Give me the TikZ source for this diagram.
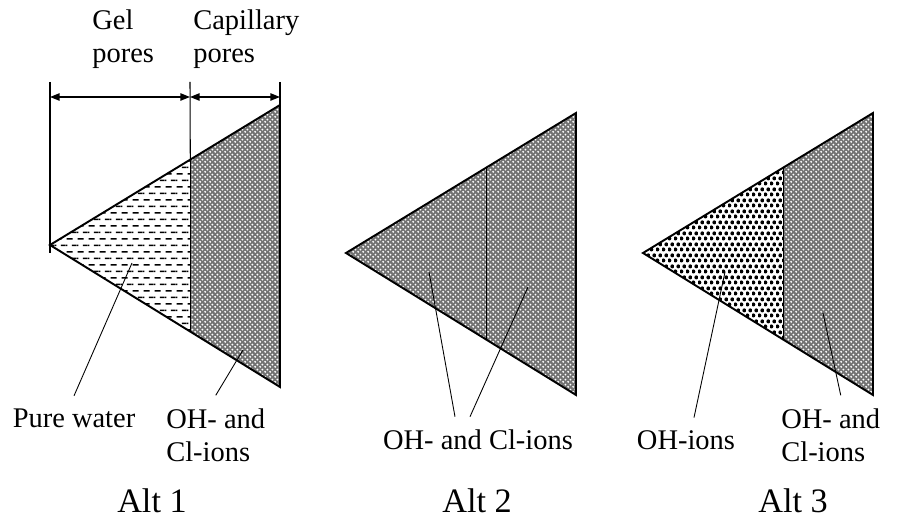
\documentclass[tikz,border=0pt]{standalone}
\usepackage{fontspec}
\setmainfont{Liberation Serif}
\usetikzlibrary{arrows.meta,calc,patterns,patterns.meta}
\tikzdeclarepattern{name=gel water,type=uncolored,bottom left={(0pt,0pt)},top right={(6.4pt,7.6pt)},tile size={(6.4pt,7.6pt)},
  code={\draw[line width=.85pt] (0.4pt,1.9pt) -- (4pt,1.9pt) (3.6pt,5.7pt) -- (6.4pt,5.7pt) (0pt,5.7pt) -- (0.8pt,5.7pt);}}
\tikzdeclarepattern{name=oh dots,type=uncolored,bottom left={(0pt,0pt)},top right={(3.6pt,6pt)},tile size={(3.6pt,6pt)},
  code={\fill (0.9pt,1.5pt) circle (1.2pt) (2.7pt,4.5pt) circle (1.2pt);}}
\tikzdeclarepattern{name=ion mesh,type=uncolored,bottom left={(0pt,0pt)},top right={(3pt,3pt)},tile size={(3pt,3pt)},
  code={\fill (0.75pt,0.75pt) circle (.65pt) (2.25pt,2.25pt) circle (.65pt);}}
\tikzset{tri/.style={draw=black,line width=1.1pt,line join=miter},sepline/.style={line width=.6pt},lead/.style={line width=.5pt},
  dimline/.style={{Triangle[length=5.5pt,width=4.2pt]}-{Triangle[length=5.5pt,width=4.2pt]},line width=.8pt},
  lbl/.style={font=\fontsize{16.2}{19}\selectfont,align=left,inner xsep=0pt,inner ysep=7.5pt},
  alt/.style={font=\fontsize{19.5}{23}\selectfont,inner sep=0pt},
  ions/.style={fill=black!55,postaction={pattern=ion mesh,pattern color=white}},
  water/.style={pattern=gel water,pattern color=black},ohdots/.style={pattern=oh dots,pattern color=black}}
\begin{document}
\begin{tikzpicture}[x=0.02cm,y=-0.02cm]
\useasboundingbox (0,0) rectangle (897,519);
% corners of the three triangles
\foreach \n/\x/\y in {1/50/245,2/346/253,3/643/253}{
  \coordinate (a\n) at (\x,\y);
  \coordinate (t\n) at (\x+230,\y-140);
  \coordinate (b\n) at (\x+230,\y+142);
  \coordinate (m\n) at ($(a\n)!.61!(t\n)$);
  \coordinate (n\n) at ($(a\n)!.61!(b\n)$);
}
\fill[water] (a1) -- (m1) -- (n1) -- cycle;
\fill[ions] (m1) -- (t1) -- (b1) -- (n1) -- cycle;
\fill[ions] (a2) -- (t2) -- (b2) -- cycle;
\fill[ohdots] (a3) -- (m3) -- (n3) -- cycle;
\fill[ions] (m3) -- (t3) -- (b3) -- (n3) -- cycle;
\foreach \n in {1,2,3}{\draw[tri] (a\n) -- (t\n) -- (b\n) -- cycle; \draw[sepline] (m\n) -- (n\n);}
% pore widths
\coordinate (e1) at (50,82); \coordinate (e2) at (190,82); \coordinate (e3) at (280,82); \coordinate (f1) at (50,253);
\draw[sepline] (e1) -- (f1); \draw[sepline] (e2) -- (m1); \draw[sepline] (e3) -- (t1);
\coordinate (d1) at (50,97); \coordinate (d2) at (190,97); \coordinate (d3) at (280,97);
\draw[dimline] (d1) -- (d2); \draw[dimline] (d2) -- (d3);
\node[lbl,anchor=base west] (gel) at (92,63) {Gel\\pores};
\node[lbl,anchor=base west] (cap) at (193,63) {Capillary\\pores};
% labels below
\node[lbl,anchor=base] (pw) at (74,428) {Pure water};
\node[lbl,anchor=base west] (ci1) at (166,462) {OH- and\\Cl-ions};
\node[lbl,anchor=base] (ci2) at (478,450) {OH- and Cl-ions};
\node[lbl,anchor=base] (oh3) at (686,450) {OH-ions};
\node[lbl,anchor=base west] (ci3) at (781,462) {OH- and\\Cl-ions};
\foreach \n/\x in {1/152,2/477,3/793}{\node[alt,anchor=base] (alt\n) at (\x,513) {Alt \n};}
\coordinate (p1) at (132,263); \draw[lead] (p1) -- (pw.north);
\coordinate (p2) at (243,350); \draw[lead] (p2) -- (ci1.north);
\coordinate (p3) at (429,272); \draw[lead] (p3) -- ($(ci2.north)+(-23,0)$);
\coordinate (p4) at (528,287); \draw[lead] (p4) -- ($(ci2.north)+(-8,0)$);
\coordinate (p5) at (725,272); \draw[lead] (p5) -- ($(oh3.north)+(8,0)$);
\coordinate (p6) at (823,313); \draw[lead] (p6) -- ($(ci3.north)+(10,0)$);
\end{tikzpicture}
\end{document}
